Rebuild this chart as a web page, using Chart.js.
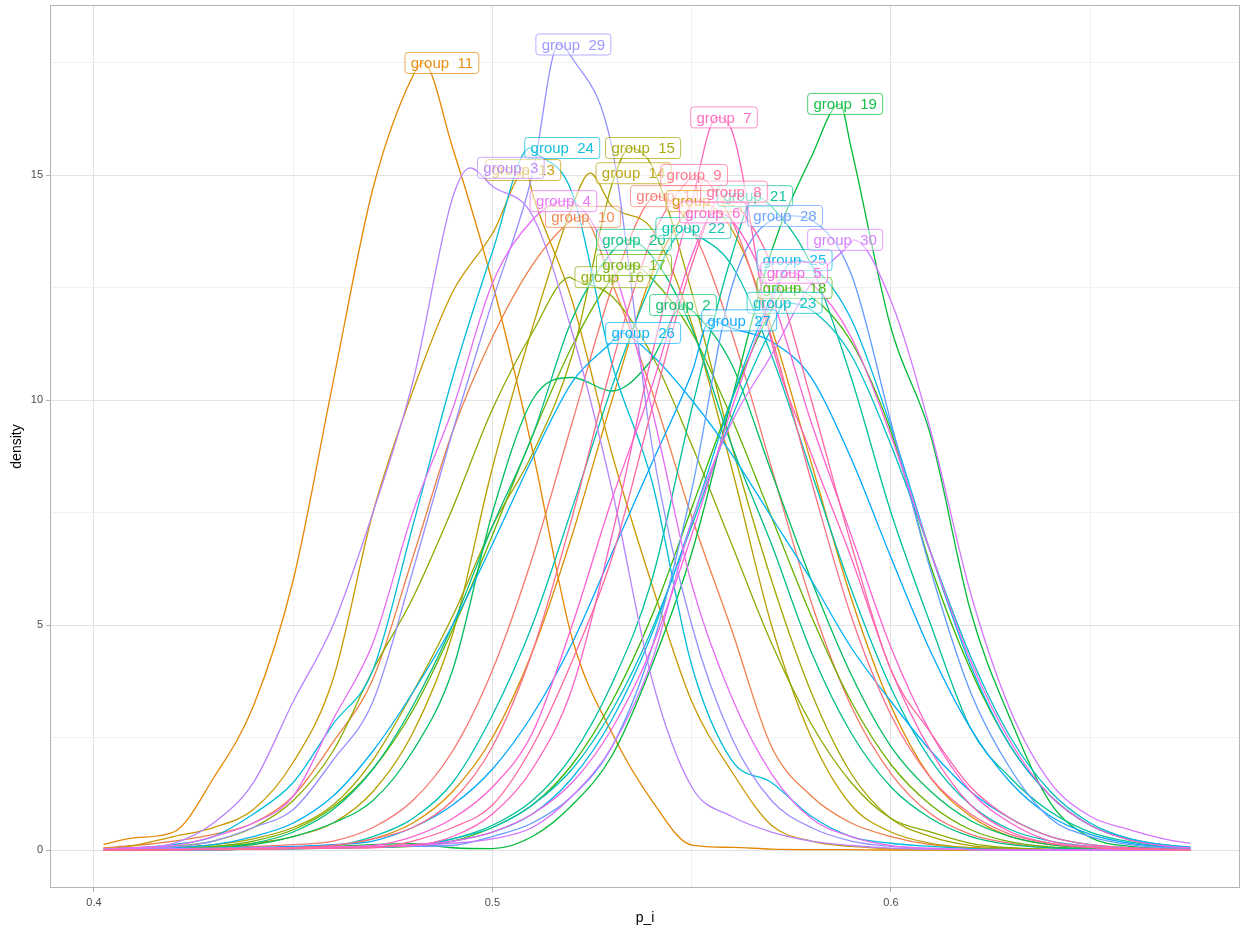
<!DOCTYPE html>
<html>
<head>
<meta charset="utf-8">
<script src="https://cdn.jsdelivr.net/npm/chart.js@4.4.1/dist/chart.umd.min.js"></script>
<style>
html,body{margin:0;padding:0;background:#ffffff;}
canvas{display:block;}
</style>
</head>
<body>
<canvas id="chart" width="1247" height="934"></canvas>
<script>
// ---------- data ----------
const xGrid = [0.4025,0.41,0.42,0.43,0.44,0.45,0.46,0.47,0.48,0.49,0.50,0.51,0.52,0.53,0.54,0.55,0.56,0.57,0.58,0.59,0.60,0.61,0.62,0.63,0.64,0.65,0.66,0.67,0.675];

const dens1  = [0.01,0.02,0.03,0.05,0.08,0.12,0.2,0.5,1.1,2.2,4.0,6.5,9.5,12.5,14.5,13.8,11.5,8.5,5.5,3.2,1.7,0.8,0.35,0.15,0.05,0.02,0.01,0,0];
const dens2  = [0.01,0.01,0.02,0.05,0.12,0.3,0.6,1.1,2.2,4.0,7.5,10.0,10.5,10.2,10.9,12.0,10.8,8.4,6.0,3.9,2.3,1.3,0.65,0.3,0.12,0.05,0.02,0.01,0];
const dens3  = [0.02,0.05,0.15,0.6,1.5,3.3,5.0,7.5,10.4,14.5,14.75,14.1,11.5,8.0,3.8,1.4,0.75,0.4,0.2,0.1,0.04,0.02,0.01,0,0,0,0,0,0];
const dens4  = [0.02,0.05,0.1,0.3,0.6,1.2,2.9,4.6,7.5,9.8,12.6,14.0,14.4,13.0,9.8,5.9,3.4,1.7,0.7,0.3,0.1,0.04,0.01,0,0,0,0,0,0];
const dens5  = [0,0,0.01,0.02,0.03,0.04,0.05,0.08,0.12,0.2,0.4,0.8,1.5,2.7,4.5,7.0,9.8,12.2,12.6,11.4,9.2,6.6,4.2,2.4,1.2,0.55,0.22,0.08,0.05];
const dens6  = [0,0.01,0.01,0.02,0.03,0.05,0.07,0.1,0.3,0.7,1.4,2.6,5.0,7.8,10.3,13.2,14.0,12.3,9.5,7.0,4.5,2.6,1.3,0.6,0.2,0.08,0.03,0.01,0];
const dens7  = [0,0,0.01,0.01,0.02,0.03,0.05,0.07,0.1,0.3,0.8,1.8,3.6,7.0,11.0,14.4,16.0,11.3,8.8,6.5,4.0,2.2,1.0,0.4,0.15,0.06,0.02,0.01,0];
const dens8  = [0,0,0.01,0.01,0.02,0.03,0.04,0.05,0.2,0.5,1.0,2.3,4.2,6.5,9.8,13.0,14.5,13.0,10.0,6.8,4.0,2.6,1.4,0.7,0.3,0.12,0.05,0.02,0.01];
const dens9  = [0,0.01,0.01,0.02,0.03,0.05,0.1,0.25,0.5,1.1,2.3,4.4,7.4,10.8,13.6,14.97,14.0,11.4,8.2,5.2,3.0,1.6,0.8,0.35,0.15,0.06,0.02,0.01,0];
const dens10 = [0.05,0.1,0.2,0.35,0.6,1.2,2.4,3.8,6.5,9.3,11.4,13.0,14.0,12.6,10.2,7.4,4.9,2.3,1.2,0.6,0.3,0.12,0.05,0.02,0.01,0,0,0,0];
const dens11 = [0.13,0.27,0.4,1.6,3.2,6.0,10.4,14.7,17.2,15.6,12.6,8.9,4.7,2.6,1.1,0.11,0.06,0.02,0.01,0.01,0,0,0,0,0,0,0,0,0];
const dens12 = [0,0.01,0.02,0.03,0.05,0.07,0.1,0.25,0.6,1.3,2.5,4.4,7.0,10.0,12.8,14.35,13.8,11.6,8.6,5.6,3.2,1.6,0.75,0.3,0.12,0.05,0.02,0.01,0];
const dens13 = [0.02,0.1,0.3,0.5,0.9,1.95,3.8,7.5,10.2,12.4,13.7,14.6,12.2,8.8,5.9,3.3,1.75,0.55,0.2,0.08,0.03,0.01,0,0,0,0,0,0,0];
const dens14 = [0.01,0.02,0.04,0.08,0.15,0.3,0.6,1.3,2.6,4.8,8.5,11.6,14.3,14.3,13.8,11.7,8.5,5.0,2.5,1.0,0.4,0.15,0.05,0.02,0,0,0,0,0];
const dens15 = [0.01,0.03,0.06,0.12,0.25,0.5,1.0,2.0,3.5,5.2,7.2,8.8,11.0,14.8,15.2,12.4,9.0,6.0,3.5,1.7,0.7,0.3,0.1,0.04,0.01,0,0,0,0];
const dens16 = [0.01,0.03,0.08,0.2,0.5,1.1,2.2,4.0,5.6,7.6,9.8,11.5,12.7,12.3,11.0,9.0,6.8,4.6,2.8,1.5,0.7,0.4,0.15,0.05,0.02,0,0,0,0];
const dens17 = [0.01,0.02,0.04,0.08,0.2,0.45,0.95,1.8,3.1,4.9,7.0,9.2,11.2,12.7,12.7,11.5,9.6,7.4,5.2,3.3,1.9,1.0,0.45,0.18,0.07,0.03,0.01,0,0];
const dens18 = [0,0,0.01,0.01,0.02,0.03,0.04,0.06,0.08,0.2,0.5,1.0,1.9,3.3,5.2,7.6,10.0,12.0,12.3,11.3,9.3,6.3,4.0,2.3,1.2,0.55,0.22,0.08,0.05];
const dens19 = [0,0,0,0.01,0.02,0.04,0.08,0.12,0.14,0.05,0.03,0.3,1.0,2.1,4.1,6.6,10.0,13.3,15.4,15.6,11.6,9.2,5.3,2.9,1.05,0.28,0.08,0.03,0.01];
const dens20 = [0,0.01,0.02,0.05,0.15,0.4,0.9,1.8,3.2,5.0,7.2,9.2,11.8,13.3,13.2,11.6,9.0,6.8,4.4,2.6,1.4,0.7,0.3,0.12,0.05,0.02,0,0,0];
const dens21 = [0,0,0.01,0.01,0.02,0.03,0.05,0.07,0.1,0.25,0.55,1.1,2.1,3.7,6.0,9.8,13.2,14.3,13.0,10.5,7.5,5.0,2.7,1.6,0.85,0.4,0.18,0.07,0.05];
const dens22 = [0,0.01,0.01,0.02,0.04,0.07,0.1,0.3,0.7,1.5,3.0,5.0,7.6,10.3,12.6,13.75,13.0,11.0,8.4,5.8,3.6,2.0,1.0,0.45,0.2,0.08,0.03,0.01,0];
const dens23 = [0,0,0.01,0.01,0.02,0.03,0.05,0.07,0.1,0.25,0.5,1.0,1.8,3.1,4.9,7.2,9.6,11.6,12.0,11.0,9.0,6.6,4.3,2.5,1.3,0.6,0.25,0.1,0.06];
const dens24 = [0.02,0.05,0.12,0.3,0.8,1.5,2.8,4.0,7.2,10.5,13.3,15.55,14.6,10.8,8.2,4.1,2.0,1.5,0.75,0.3,0.15,0.08,0.03,0.01,0,0,0,0,0];
const dens25 = [0,0,0.01,0.01,0.02,0.03,0.05,0.07,0.1,0.2,0.4,0.8,1.6,2.9,4.8,7.3,10.0,12.3,13.0,11.8,9.4,6.6,4.1,2.3,1.2,0.55,0.25,0.1,0.07];
const dens26 = [0,0.02,0.05,0.12,0.3,0.6,1.2,2.2,3.5,5.0,6.8,8.7,10.4,11.3,11.0,10.0,8.8,7.4,6.0,4.5,3.3,2.2,1.3,0.7,0.3,0.12,0.05,0.02,0.01];
const dens27 = [0,0.01,0.02,0.03,0.05,0.08,0.12,0.2,0.5,1.0,1.8,3.0,4.6,6.6,8.6,10.6,11.6,11.3,10.5,8.7,6.5,4.4,2.7,1.5,0.75,0.35,0.15,0.06,0.04];
const dens28 = [0,0,0,0.01,0.02,0.03,0.05,0.07,0.08,0.1,0.3,0.6,1.2,2.3,4.5,8.0,12.5,14.0,14.0,12.8,9.5,6.2,3.5,1.8,0.7,0.3,0.12,0.05,0.03];
const dens29 = [0.01,0.03,0.07,0.2,0.5,0.9,2.0,3.3,6.2,9.3,12.2,15.0,17.6,15.6,9.0,5.0,2.5,1.1,0.5,0.2,0.08,0.03,0.01,0,0,0,0,0,0];
const dens30 = [0.01,0.02,0.03,0.04,0.05,0.06,0.07,0.08,0.1,0.15,0.25,0.5,1.2,2.3,4.2,7.3,9.5,11.0,12.6,13.5,12.2,9.3,5.7,3.1,1.5,0.75,0.45,0.22,0.15];

// group numbers 1..30 (same order as the arrays below)
const groupNumbers = [1,2,3,4,5,6,7,8,9,10,11,12,13,14,15,16,17,18,19,20,21,22,23,24,25,26,27,28,29,30];
// peak of each density (x of the mode, peak height)
const modeX = [0.541,0.548,0.4944,0.518,0.5745,0.556,0.5563,0.5585,0.5505,0.5225,0.4826,0.551,0.5085,0.5245,0.5345,0.5195,0.535,0.5745,0.5872,0.534,0.566,0.549,0.5735,0.5094,0.576,0.532,0.5545,0.575,0.5166,0.5905];
const modeY = [14.53,12.11,15.16,14.42,12.83,14.17,16.28,14.63,15.0,14.07,17.49,14.42,15.11,15.04,15.6,12.73,13.0,12.49,16.58,13.56,14.53,13.82,12.16,15.6,13.11,11.49,11.77,14.09,17.9,13.56];
// x of each group's label (group mean of p_i)
const meanX = [0.543,0.5478,0.5046,0.5178,0.5757,0.5553,0.5581,0.5606,0.5506,0.5227,0.4873,0.553,0.5077,0.5354,0.5378,0.5301,0.5355,0.5758,0.5885,0.5355,0.5659,0.5504,0.5733,0.5175,0.5758,0.5378,0.5619,0.5734,0.5203,0.5885];

const xTickValues = [0.4,0.5,0.6];
const yTickValues = [0,5,10,15];

// ---------- build ----------
const densities = [dens1,dens2,dens3,dens4,dens5,dens6,dens7,dens8,dens9,dens10,dens11,dens12,dens13,dens14,dens15,dens16,dens17,dens18,dens19,dens20,dens21,dens22,dens23,dens24,dens25,dens26,dens27,dens28,dens29,dens30];

function hcl(h, c, l) {
  const hr = h * Math.PI / 180;
  const U = c * Math.cos(hr), V = c * Math.sin(hr);
  const Xn = 95.047, Yn = 100.0, Zn = 108.883;
  const den = Xn + 15 * Yn + 3 * Zn;
  const un = 4 * Xn / den, vn = 9 * Yn / den;
  const Y = Yn * (l > 7.999592 ? Math.pow((l + 16) / 116, 3) : l / 903.3);
  const u = U / (13 * l) + un, v = V / (13 * l) + vn;
  const X = 9.0 * Y * u / (4 * v);
  const Z = -X / 3 - 5 * Y + 3 * Y / v;
  const x = X / 100, y = Y / 100, z = Z / 100;
  const g = t => { t = t > 0.0031308 ? 1.055 * Math.pow(t, 1 / 2.4) - 0.055 : 12.92 * t; return Math.round(Math.max(0, Math.min(1, t)) * 255); };
  return [g(3.240479 * x - 1.537150 * y - 0.498535 * z),
          g(-0.969256 * x + 1.875992 * y + 0.041556 * z),
          g(0.055648 * x - 0.204043 * y + 1.057311 * z)];
}

const names = groupNumbers.map(n => 'group  ' + n);
const levels = names.slice().sort();      // factor level order (alphabetical)
const levelRGB = levels.map((_, k) => hcl(15 + 360 / levels.length * k, 100, 65));

const datasets = levels.map((name, k) => {
  const idx = names.indexOf(name);
  const ys = densities[idx];
  const pts = xGrid.map((x, i) => ({x: x, y: ys[i]})).filter(p => Math.abs(p.x - modeX[idx]) > 1e-6);
  pts.push({x: modeX[idx], y: modeY[idx]});
  pts.sort((a, b) => a.x - b.x);
  const [r, g, b] = levelRGB[k];
  return {
    label: name,
    data: pts,
    borderColor: `rgb(${r},${g},${b})`,
    borderWidth: 1.3,
    pointRadius: 0,
    fill: false,
    cubicInterpolationMode: 'monotone',
    order: levels.length - k,
    _meanX: meanX[idx],
    _rgb: [r, g, b]
  };
});

const FONT = "'Liberation Sans', Arial, Helvetica, sans-serif";
const isMajor = (v, list) => list.some(t => Math.abs(t - v) < 1e-9);

const labelPlugin = {
  id: 'groupLabels',
  afterDatasetsDraw(chart) {
    const ctx = chart.ctx;
    const xs = chart.scales.x, ys = chart.scales.y;
    ctx.save();
    ctx.font = '15px ' + FONT;
    ctx.textBaseline = 'middle';
    ctx.textAlign = 'left';
    chart.data.datasets.forEach(ds => {
      const peak = Math.max(...ds.data.map(p => p.y));
      const cx = xs.getPixelForValue(ds._meanX);
      const cy = ys.getPixelForValue(peak);
      const tw = ctx.measureText(ds.label).width;
      const padX = 5.8, h = 21, w = tw + 2 * padX, r = 3;
      const x0 = cx - w / 2, y0 = cy - h / 2;
      ctx.beginPath();
      ctx.moveTo(x0 + r, y0);
      ctx.lineTo(x0 + w - r, y0);
      ctx.arcTo(x0 + w, y0, x0 + w, y0 + r, r);
      ctx.lineTo(x0 + w, y0 + h - r);
      ctx.arcTo(x0 + w, y0 + h, x0 + w - r, y0 + h, r);
      ctx.lineTo(x0 + r, y0 + h);
      ctx.arcTo(x0, y0 + h, x0, y0 + h - r, r);
      ctx.lineTo(x0, y0 + r);
      ctx.arcTo(x0, y0, x0 + r, y0, r);
      ctx.closePath();
      ctx.fillStyle = 'rgba(255,255,255,0.5)';
      ctx.fill();
      const [R, G, B] = ds._rgb;
      ctx.strokeStyle = `rgba(${R},${G},${B},0.7)`;
      ctx.lineWidth = 1;
      ctx.stroke();
      ctx.fillStyle = `rgba(${R},${G},${B},0.92)`;
      ctx.fillText(ds.label, x0 + padX, cy + 1);
    });
    ctx.restore();
  },
  afterDraw(chart) {
    const {left, top, right, bottom} = chart.chartArea;
    const ctx = chart.ctx;
    ctx.save();
    ctx.strokeStyle = '#b3b3b3';
    ctx.lineWidth = 1;
    ctx.strokeRect(Math.round(left) + 0.5, Math.round(top) + 0.5, Math.round(right - left) - 1, Math.round(bottom - top) - 1);
    ctx.restore();
  }
};

new Chart(document.getElementById('chart'), {
  type: 'line',
  data: {datasets: datasets},
  options: {
    responsive: false,
    animation: false,
    devicePixelRatio: 1,
    layout: {padding: {top: 5, right: 7, left: 0, bottom: 0}},
    plugins: {legend: {display: false}, tooltip: {enabled: false}},
    elements: {line: {borderCapStyle: 'round', borderJoinStyle: 'round'}},
    scales: {
      x: {
        type: 'linear',
        min: 0.38896,
        max: 0.68758,
        afterBuildTicks: s => { s.ticks = [0.4,0.45,0.5,0.55,0.6,0.65].map(v => ({value: v})); },
        afterFit: s => { s.height = 46; s.paddingLeft = 0; s.paddingRight = 0; },
        border: {display: false},
        grid: {
          color: c => isMajor(c.tick.value, xTickValues) ? '#e2e2e2' : '#f1f1f1',
          lineWidth: 1,
          drawTicks: true,
          tickLength: 4,
          tickColor: c => isMajor(c.tick.value, xTickValues) ? '#b3b3b3' : 'rgba(0,0,0,0)'
        },
        ticks: {
          autoSkip: false, maxRotation: 0, padding: 4,
          color: '#4d4d4d',
          font: {family: FONT, size: 11},
          callback: v => isMajor(v, xTickValues) ? String(v) : ''
        },
        title: {display: true, text: 'p_i', color: '#000000', font: {family: FONT, size: 14}, padding: {top: 0, bottom: 7}}
      },
      y: {
        type: 'linear',
        min: -0.844,
        max: 18.778,
        afterBuildTicks: s => { s.ticks = [0,2.5,5,7.5,10,12.5,15,17.5].map(v => ({value: v})); },
        afterFit: s => { s.width = 50; s.paddingTop = 0; s.paddingBottom = 0; },
        border: {display: false},
        grid: {
          color: c => isMajor(c.tick.value, yTickValues) ? '#e2e2e2' : '#f1f1f1',
          lineWidth: 1,
          drawTicks: true,
          tickLength: 4,
          tickColor: c => isMajor(c.tick.value, yTickValues) ? '#b3b3b3' : 'rgba(0,0,0,0)'
        },
        ticks: {
          autoSkip: false, padding: 3,
          color: '#4d4d4d',
          font: {family: FONT, size: 11},
          callback: v => isMajor(v, yTickValues) ? String(v) : ''
        },
        title: {display: true, text: 'density', color: '#000000', font: {family: FONT, size: 14}, padding: {top: 9, bottom: 0}}
      }
    }
  },
  plugins: [labelPlugin]
});
</script>
</body>
</html>
